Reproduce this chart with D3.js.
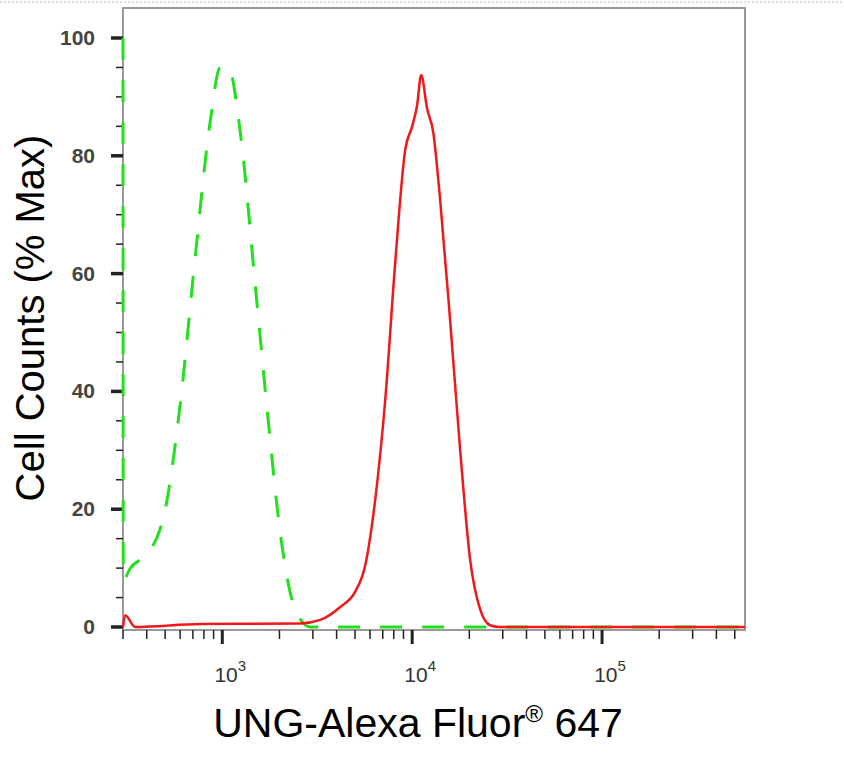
<!DOCTYPE html>
<html><head><meta charset="utf-8">
<script src="https://cdn.jsdelivr.net/npm/d3@7"></script>
<style>body{margin:0;background:#fff}text{font-family:"Liberation Sans",Arial,sans-serif}</style>
</head><body><svg id="c" width="844" height="763"></svg>
<script>
// histogram traces (fluorescence, % max)
var greenX = [300, 301, 328, 418, 501, 601, 721, 865, 976, 1076, 1244, 1492, 1746, 2019, 2421, 2904, 10000, 100000, 566000];
var greenY = [100, 8, 10, 13, 20, 38, 63, 86, 95, 95, 84, 58, 35, 16, 3, 0, 0, 0, 0];
var redX = [300, 308, 348, 766, 2573, 3281, 4180, 5012, 5662, 6383, 7211, 8147, 9190, 10000, 10620, 11150, 11990, 12910, 14040, 15850, 17900, 20200, 22800, 25760, 29050, 566000];
var redY = [0, 2, 0, 0.5, 0.6, 1.2, 3.4, 6, 10.5, 21.5, 38.5, 62, 81, 85, 88.6, 93.7, 88, 84, 72.5, 52, 30, 11.4, 3, 0.3, 0, 0];
var yTicks = [0, 20, 40, 60, 80, 100];
var xMajor = [1e3, 1e4, 1e5];

var svg = d3.select("#c");
var L = 123, R = 745, T = 8, B = 630;
var x = d3.scaleLog().domain([300, 566000]).range([L, R]);
var y = d3.scaleLinear().domain([0, 100]).range([627, 38]);

svg.append("line").attr("x1", 0).attr("x2", 844).attr("y1", 2).attr("y2", 2)
  .attr("stroke", "#bbb").attr("stroke-dasharray", "2,2");
svg.append("rect").attr("x", L).attr("y", T).attr("width", R - L).attr("height", B - T)
  .attr("fill", "none").attr("stroke", "#999").attr("stroke-width", 2);

// y ticks
var yMinor = d3.range(0, 101, 5);
svg.selectAll(".ym").data(yMinor).enter().append("line")
  .attr("x1", function (d) { return d % 20 ? L - 7 : L - 12; }).attr("x2", L)
  .attr("y1", function (d) { return y(d); }).attr("y2", function (d) { return y(d); })
  .attr("stroke", "#222").attr("stroke-width", function (d) { return d % 20 ? 1.5 : 3.5; });
svg.selectAll(".yl").data(yTicks).enter().append("text")
  .attr("x", 95).attr("y", function (d) { return y(d) + 7; }).attr("text-anchor", "end")
  .attr("font-size", 21).attr("font-weight", "bold").attr("fill", "#444").text(function (d) { return d; });

// x ticks
var xMinor = [];
[100, 1000, 10000, 100000].forEach(function (p) {
  for (var k = 1; k < 10; k++) { var v = p * k; if (v >= 300 && v <= 566000) xMinor.push(v); }
});
svg.selectAll(".xm").data(xMinor).enter().append("line")
  .attr("x1", function (d) { return x(d); }).attr("x2", function (d) { return x(d); })
  .attr("y1", B).attr("y2", function (d) { return xMajor.indexOf(d) >= 0 ? B + 14 : B + 9; })
  .attr("stroke", "#222").attr("stroke-width", function (d) { return xMajor.indexOf(d) >= 0 ? 3 : 1.5; });
var xl = svg.selectAll(".xl").data(xMajor).enter().append("text")
  .attr("x", function (d) { return x(d) + 8; }).attr("y", 682).attr("text-anchor", "middle")
  .attr("font-size", 21).attr("fill", "#333");
xl.append("tspan").text("10");
xl.append("tspan").attr("dy", -11).attr("font-size", 15).text(function (d) { return Math.round(Math.log10(d)); });

svg.append("clipPath").attr("id", "clip").append("rect")
  .attr("x", L - 2).attr("y", T).attr("width", R - L + 2).attr("height", B - T);
var g = svg.append("g").attr("clip-path", "url(#clip)");
var line = d3.line().x(function (d) { return x(d[0]); }).y(function (d) { return y(d[1]); })
  .curve(d3.curveMonotoneX);
g.append("path").attr("d", line(d3.zip(greenX, greenY))).attr("fill", "none")
  .attr("stroke", "#22e01e").attr("stroke-width", 3).attr("stroke-dasharray", "22,20");
g.append("path").attr("d", line(d3.zip(redX, redY))).attr("fill", "none")
  .attr("stroke", "#f01818").attr("stroke-width", 2.5);

svg.append("text").attr("transform", "translate(44,318) rotate(-90)").attr("text-anchor", "middle")
  .attr("font-size", 40).text("Cell Counts (% Max)");
var xt = svg.append("text").attr("x", 418).attr("y", 737).attr("text-anchor", "middle").attr("font-size", 41);
xt.append("tspan").text("UNG-Alexa Fluor");
xt.append("tspan").attr("dy", -15).attr("font-size", 24).text("®");
xt.append("tspan").attr("dy", 15).text(" 647");
</script></body></html>
